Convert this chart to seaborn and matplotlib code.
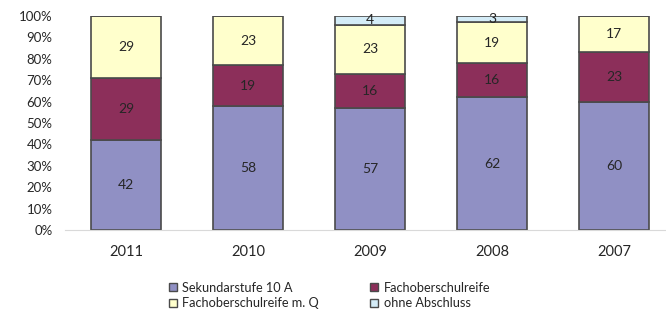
import matplotlib.pyplot as plt
import seaborn as sns
import numpy as np
from matplotlib.patches import Patch

years = ['2011', '2010', '2009', '2008', '2007']
sek_10a = [42, 58, 57, 62, 60]
fachoberschulreife = [29, 19, 16, 16, 23]
fachoberschulreife_q = [29, 23, 23, 19, 17]
ohne_abschluss = [0, 0, 4, 3, 0]

series = [
    ('Sekundarstufe 10 A', sek_10a, '#9090c4'),
    ('Fachoberschulreife', fachoberschulreife, '#8c2f5a'),
    ('Fachoberschulreife m. Q', fachoberschulreife_q, '#ffffcc'),
    ('ohne Abschluss', ohne_abschluss, '#d4ecf7'),
]

sns.set_style('white')
plt.rcParams['font.family'] = ['Lato', 'DejaVu Sans']

fig = plt.figure(figsize=(6.66, 3.11), dpi=100)
ax = fig.add_axes([65 / 666, 81 / 311, 610 / 666, 214 / 311])

bottom = np.zeros(len(years))
for name, vals, col in series:
    vals = np.array(vals, dtype=float)
    sns.barplot(x=years, y=vals, order=years, color=col, width=0.58,
                bottom=bottom, edgecolor='#4a4a4a', linewidth=1.2,
                saturation=1, ax=ax)
    for i, v in enumerate(vals):
        if v > 0:
            ax.text(i, bottom[i] + v / 2, f'{int(v)}', ha='center',
                    va='center', fontsize=10, color='#262626')
    bottom += vals

ax.set_ylim(0, 100)
ax.set_xlim(-0.5, 4.5)
ax.set_yticks(range(0, 101, 10))
ax.set_yticklabels([f'{t}%' for t in range(0, 101, 10)])
ax.tick_params(axis='y', length=0, pad=9, labelsize=9.5, labelcolor='#262626')
ax.tick_params(axis='x', length=0, pad=11, labelsize=10.5, labelcolor='#262626')
ax.set_xlabel('')
ax.set_ylabel('')
for s in ['top', 'right', 'left']:
    ax.spines[s].set_visible(False)
ax.spines['bottom'].set_color('#d9d9d9')

handles = [Patch(facecolor=c, edgecolor='#4a4a4a', label=n) for n, _, c in series]
handles = [handles[0], handles[2], handles[1], handles[3]]
fig.legend(handles=handles, ncol=2, loc='center', bbox_to_anchor=(0.495, 0.05),
           frameon=False, fontsize=9.2, handlelength=0.6, handleheight=0.6,
           handletextpad=0.45, columnspacing=4.0, labelspacing=0.3,
           labelcolor='#262626')

fig.savefig('out.png', dpi=100)
